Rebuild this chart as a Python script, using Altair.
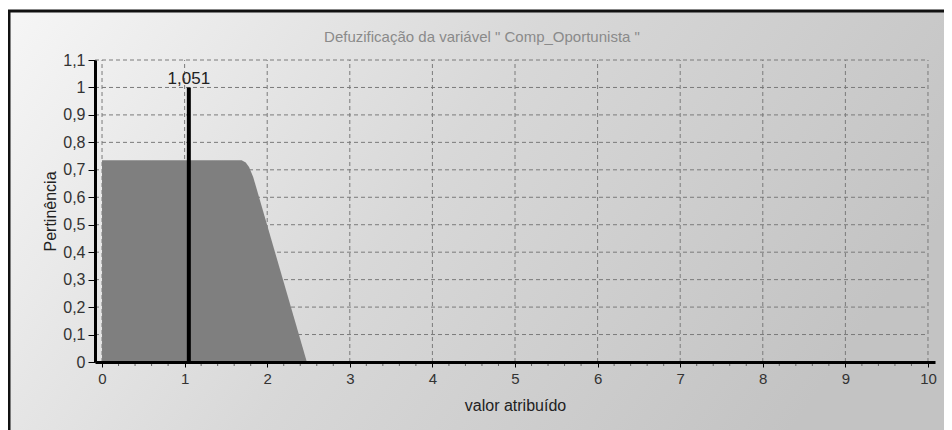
import altair as alt
import pandas as pd

# ---- data ----
area_x = [0.0, 1.69, 1.74, 1.78, 1.83, 2.48]
area_y = [0.735, 0.735, 0.727, 0.71, 0.674, 0.0]
defuzz_value = 1.051
defuzz_label = "1,051"
x_ticks = [0, 1, 2, 3, 4, 5, 6, 7, 8, 9, 10]
x_minor = [i / 5 for i in range(0, 51) if i % 5 != 0]
y_ticks = [0.0, 0.1, 0.2, 0.3, 0.4, 0.5, 0.6, 0.7, 0.8, 0.9, 1.0, 1.1]
title_text = 'Defuzificação da variável " Comp_Oportunista "'
x_title = "valor atribuído"
y_title = "Pertinência"

X_MIN, X_MAX = -0.085, 10.085
Y_MIN, Y_MAX = 0.0, 1.1
W, H = 840, 302
FONT = "Liberation Sans"

xs = alt.Scale(domain=[X_MIN, X_MAX], nice=False, zero=False)
ys = alt.Scale(domain=[Y_MIN, Y_MAX], nice=False, zero=False)

x_axis = alt.Axis(values=x_ticks, grid=False, domainColor="#000000", domainWidth=3,
                  tickColor="#000000", tickSize=5, tickWidth=1, labelFont=FONT,
                  labelFontSize=15, labelColor="#333333", labelPadding=4,
                  titleFont=FONT, titleFontSize=16, titleFontWeight="normal",
                  titleColor="#222222", titlePadding=11, labelFlush=False, zindex=2)
y_axis = alt.Axis(values=y_ticks, grid=False, domainColor="#000000", domainWidth=3,
                  tickColor="#000000", tickSize=7, tickWidth=1, labelFont=FONT,
                  labelFontSize=16, labelColor="#333333", labelPadding=3,
                  labelExpr="replace(format(datum.value, '.1~f'), '.', ',')",
                  titleFont=FONT, titleFontSize=16, titleFontWeight="normal",
                  titleColor="#222222", titlePadding=4, labelFlush=False, zindex=2)

area_df = pd.DataFrame({"x": area_x, "y": area_y})
xt_df = pd.DataFrame({"x": x_ticks})
xm_df = pd.DataFrame({"x": x_minor})
yt_df = pd.DataFrame({"y": y_ticks})
defuzz_df = pd.DataFrame({"x": [defuzz_value], "y": [1.0], "label": [defuzz_label]})
title_df = pd.DataFrame({"t": [title_text]})

bg = alt.Chart(title_df).mark_rect(
    fill=alt.LinearGradient(
        gradient="linear",
        stops=[alt.GradientStop(color="#f6f6f6", offset=0),
               alt.GradientStop(color="#d8d8d8", offset=0.5),
               alt.GradientStop(color="#c3c3c3", offset=1)],
        x1=0, y1=0, x2=1, y2=0.35),
    stroke="#111111", strokeWidth=3,
).encode(x=alt.value(-86), x2=alt.value(880), y=alt.value(-49), y2=alt.value(420))

hgrid = alt.Chart(yt_df).transform_calculate(
    x0=str(X_MIN), x1=str(x_ticks[-1])
).mark_rule(color="#7a7a7a", strokeDash=[4, 3], strokeWidth=1).encode(
    y=alt.Y("y:Q", scale=ys, axis=y_axis, title=y_title),
    x=alt.X("x0:Q", scale=xs, axis=x_axis, title=x_title),
    x2="x1:Q",
)
vgrid = alt.Chart(xt_df).transform_calculate(
    y0=str(Y_MIN), y1=str(Y_MAX)
).mark_rule(color="#7a7a7a", strokeDash=[4, 3], strokeWidth=1).encode(
    x=alt.X("x:Q", scale=xs, axis=x_axis, title=x_title),
    y=alt.Y("y0:Q", scale=ys, axis=y_axis, title=y_title),
    y2="y1:Q",
)

area = alt.Chart(area_df).mark_area(color="#7f7f7f", opacity=1).encode(
    x=alt.X("x:Q", scale=xs, axis=x_axis, title=x_title),
    y=alt.Y("y:Q", scale=ys, axis=y_axis, title=y_title),
)

minor = alt.Chart(xm_df).mark_rule(color="#666666", strokeWidth=1).encode(
    x=alt.X("x:Q", scale=xs, axis=x_axis, title=x_title),
    y=alt.value(H + 1), y2=alt.value(H + 4),
)

defuzz = alt.Chart(defuzz_df).transform_calculate(y0="0").mark_rule(
    color="#000000", strokeWidth=4
).encode(
    x=alt.X("x:Q", scale=xs, axis=x_axis, title=x_title),
    y=alt.Y("y0:Q", scale=ys, axis=y_axis, title=y_title),
    y2="y:Q",
)
defuzz_text = alt.Chart(defuzz_df).mark_text(
    font=FONT, fontSize=17, color="#222222", baseline="alphabetic", align="center", dy=-3
).encode(
    x=alt.X("x:Q", scale=xs, axis=x_axis, title=x_title),
    y=alt.Y("y:Q", scale=ys, axis=y_axis, title=y_title),
    text="label:N",
)

title = alt.Chart(title_df).mark_text(
    font=FONT, fontSize=15, color="#8a8a8a", align="center", baseline="alphabetic"
).encode(x=alt.value(387), y=alt.value(-18), text="t:N")

chart = alt.layer(bg, hgrid, vgrid, area, minor, defuzz, defuzz_text, title).properties(
    width=W, height=H,
    autosize=alt.AutoSizeParams(type="none"),
    padding={"left": 87, "top": 52, "right": 9, "bottom": 68},
    background="#ffffff",
).configure_view(stroke=None, clip=False)

chart.save("out.html", embed_options={"renderer": "svg", "actions": False})
